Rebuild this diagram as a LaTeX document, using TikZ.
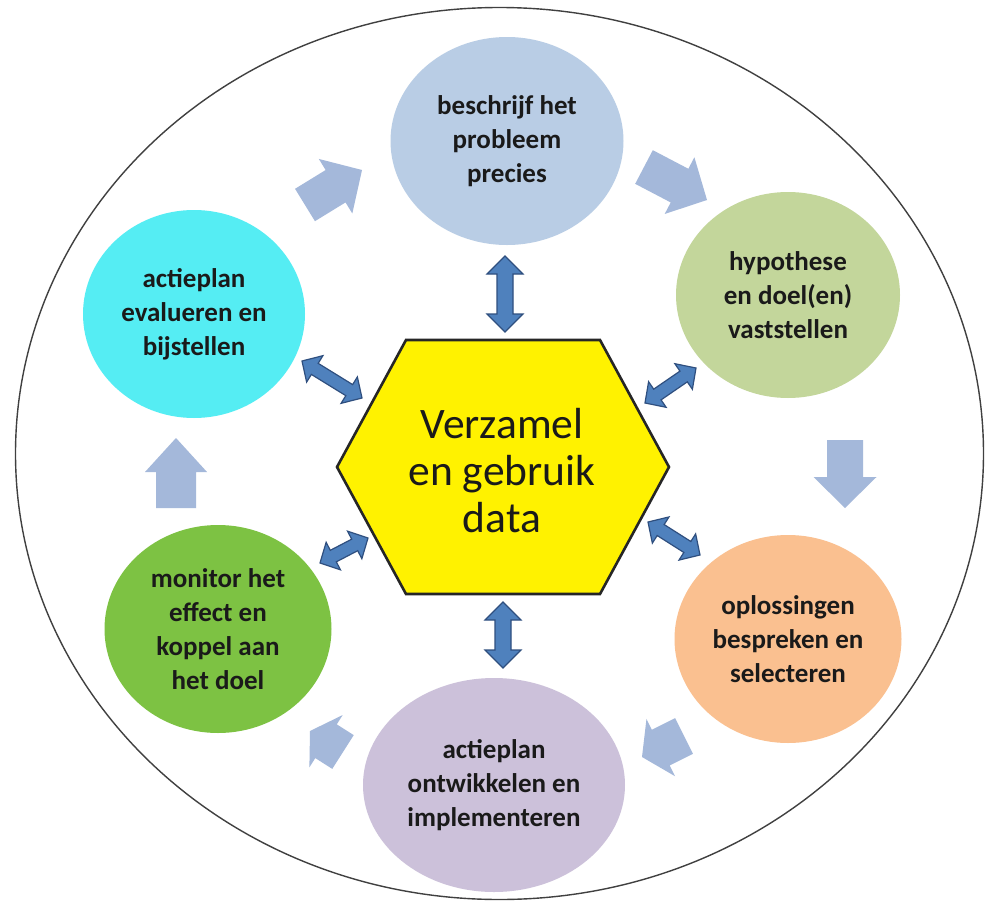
\documentclass[tikz,border=0pt]{standalone}
\usepackage{fontspec}
\setmainfont{Carlito}
\usetikzlibrary{calc,shapes.geometric}
\definecolor{cTop}{HTML}{B9CDE5}
\definecolor{cHyp}{HTML}{C3D69B}
\definecolor{cOpl}{HTML}{FAC090}
\definecolor{cAct}{HTML}{CCC1DA}
\definecolor{cMon}{HTML}{7DC243}
\definecolor{cEva}{HTML}{55EDF3}
\definecolor{cLight}{HTML}{A4B8DA}
\definecolor{cDark}{HTML}{4F81BD}
\definecolor{cDarkEdge}{HTML}{2F4F7F}
\definecolor{cText}{HTML}{1A1A1A}
\newcommand{\blkarrow}[5]{%
  \coordinate (hb) at ($(#2)!#5!(#1)$);
  \fill[lightarr] ($(#1)!#3!90:(#2)$) -- ($(hb)!#3!90:(#2)$) -- ($(hb)!#4!90:(#2)$) -- (#2) -- ($(hb)!#4!-90:(#2)$) -- ($(hb)!#3!-90:(#2)$) -- ($(#1)!#3!-90:(#2)$) -- cycle;}
\newcommand{\dblarrow}[5]{%
  \coordinate (ba) at ($(#1)!#5!(#2)$);
  \coordinate (bc) at ($(#2)!#5!(#1)$);
  \filldraw[darkarr] (#1) -- ($(ba)!#4!90:(#2)$) -- ($(ba)!#3!90:(#2)$) -- ($(bc)!#3!90:(#2)$) -- ($(bc)!#4!90:(#2)$) -- (#2) -- ($(bc)!#4!-90:(#2)$) -- ($(bc)!#3!-90:(#2)$) -- ($(ba)!#3!-90:(#2)$) -- ($(ba)!#4!-90:(#2)$) -- cycle;}
\begin{document}
\begin{tikzpicture}[x=1pt,y=-1pt,
  bub/.style={ellipse, inner sep=0pt, align=center, text=cText,
    font=\bfseries\fontsize{27}{34}\selectfont},
  lightarr/.style={fill=cLight},
  darkarr/.style={fill=cDark, draw=cDarkEdge, line width=1.2pt, line join=miter},
  outer/.style={draw=black!75, line width=1.4pt}]
\useasboundingbox (0,0) rectangle (986,905);
\fill[white] (0,0) rectangle (986,905);
\draw[outer] (499.5,453.5) ellipse [x radius=484pt, y radius=446pt];

% circles
\node[bub, fill=cTop, minimum width=233pt, minimum height=208pt] (p1) at (507,141) {beschrijf het\\probleem\\precies};
\node[bub, fill=cHyp, minimum width=224pt, minimum height=206pt] (p2) at (788,295) {hypothese\\en doel(en)\\vaststellen};
\node[bub, fill=cOpl, minimum width=227pt, minimum height=208pt] (p3) at (788,639) {oplossingen\\bespreken en\\selecteren};
\node[bub, fill=cAct, minimum width=262pt, minimum height=214pt] (p4) at (494,785) {actieplan\\ontwikkelen en\\implementeren};
\node[bub, fill=cMon, minimum width=227pt, minimum height=208pt] (p5) at (218,629) {monitor het\\effect en\\koppel aan\\het doel};
\node[bub, fill=cEva, minimum width=222pt, minimum height=208pt] (p6) at (194,314) {actieplan\\evalueren en\\bijstellen};

% hexagon
\coordinate (h1) at (406,340);
\coordinate (h2) at (600,340);
\coordinate (h3) at (669,467);
\coordinate (h4) at (600,594);
\coordinate (h5) at (406,594);
\coordinate (h6) at (337,467);
\filldraw[fill=yellow, draw=black!85, line width=2.6pt, line join=miter] (h1) -- (h2) -- (h3) -- (h4) -- (h5) -- (h6) -- cycle;
\node[align=center, text=cText, font=\fontsize{43.5}{47}\selectfont] (hex) at (502,471) {Verzamel\\en gebruik\\data};

% light cycle arrows
\coordinate (a1t) at (305,205); \coordinate (a1h) at (362,170);
\coordinate (a2t) at (644,167); \coordinate (a2h) at (707,200);
\coordinate (a3t) at (845,440); \coordinate (a3h) at (845,508);
\coordinate (a4t) at (684,736); \coordinate (a4h) at (642,757);
\coordinate (a5t) at (343,752); \coordinate (a5h) at (310,731);
\coordinate (a6t) at (176,508); \coordinate (a6h) at (176,438);
\blkarrow{a1t}{a1h}{19pt}{32pt}{31pt}
\blkarrow{a2t}{a2h}{19pt}{32pt}{31pt}
\blkarrow{a3t}{a3h}{18pt}{31.5pt}{31pt}
\blkarrow{a4t}{a4h}{20pt}{32pt}{21pt}
\blkarrow{a5t}{a5h}{20pt}{31pt}{19pt}
\blkarrow{a6t}{a6h}{20pt}{31pt}{34pt}

% dark double arrows
\coordinate (da1) at (505,256); \coordinate (da2) at (505,332);
\coordinate (db1) at (503,602); \coordinate (db2) at (503,668);
\coordinate (dc1) at (302,361); \coordinate (dc2) at (362,398);
\coordinate (dd1) at (645,403); \coordinate (dd2) at (696,368);
\coordinate (de1) at (648,522); \coordinate (de2) at (700,555);
\coordinate (df1) at (320,563); \coordinate (df2) at (368,538);
\dblarrow{da1}{da2}{8pt}{18pt}{18pt}
\dblarrow{db1}{db2}{8pt}{18pt}{18pt}
\dblarrow{dc1}{dc2}{6.5pt}{15.5pt}{15pt}
\dblarrow{dd1}{dd2}{6.5pt}{15.5pt}{15pt}
\dblarrow{de1}{de2}{6.5pt}{15.5pt}{15pt}
\dblarrow{df1}{df2}{6.5pt}{15.5pt}{15pt}
\end{tikzpicture}
\end{document}
